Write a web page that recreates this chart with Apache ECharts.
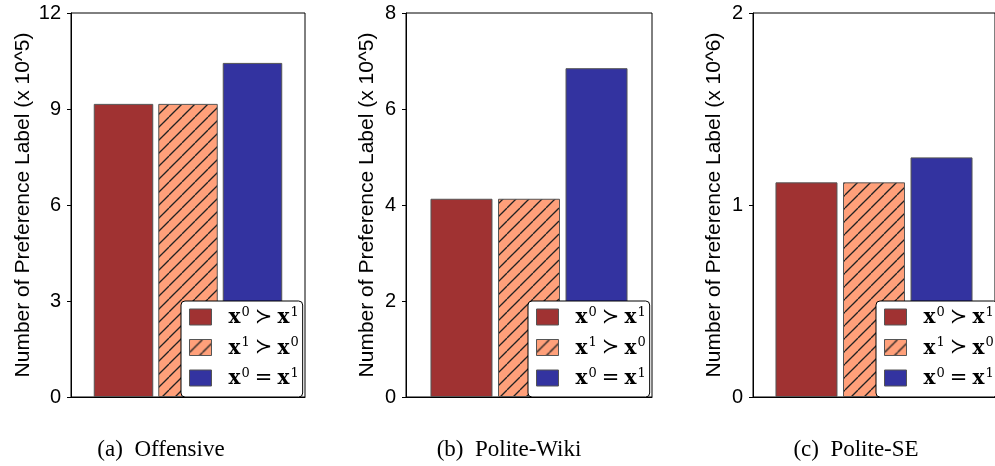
<!DOCTYPE html>
<html>
<head>
<meta charset="utf-8">
<script src="https://cdn.jsdelivr.net/npm/echarts@6/dist/echarts.min.js"></script>
<style>html,body{margin:0;padding:0;background:#fff;}#c{width:995px;height:466px;}</style>
</head>
<body>
<div id="c"></div>
<script>
// ---- data ----
const datasets = ['Offensive', 'Polite-Wiki', 'Polite-SE'];
const captions = ['(a)\u00a0\u00a0Offensive', '(b)\u00a0\u00a0Polite-Wiki', '(c)\u00a0\u00a0Polite-SE'];
const seriesNames = ['x⁰ ≻ x¹', 'x¹ ≻ x⁰', 'x⁰ = x¹'];
const prefer01 = [9.16, 4.13, 1.118];   // x0 > x1
const prefer10 = [9.16, 4.13, 1.118];   // x1 > x0
const equalPref = [10.44, 6.85, 1.248]; // x0 = x1
const yMax = [12, 8, 2];
const yInterval = [3, 2, 1];
const yUnits = ['10^5', '10^5', '10^6'];

// ---- layout / style ----
const grids = [
  {left: 71, top: 13, width: 234, height: 384},
  {left: 406, top: 13, width: 246, height: 384},
  {left: 753, top: 13, width: 248, height: 384}
];
const barWidths = [59.5, 62, 62];
const barGaps = ['8.4%', '8.9%', '8.9%'];
const captionX = [156, 504, 851];
const nameGaps = [37, 28, 28];
const legendLeft = [181, 528, 876];

function hatch() {
  const s = 13;
  const cv = document.createElement('canvas');
  cv.width = s; cv.height = s;
  const ctx = cv.getContext('2d');
  ctx.fillStyle = '#FFA07A';
  ctx.fillRect(0, 0, s, s);
  ctx.strokeStyle = '#222';
  ctx.lineWidth = 1.3;
  for (let k = -1; k <= 1; k++) {
    ctx.beginPath();
    ctx.moveTo(k * s, s);
    ctx.lineTo(k * s + s, 0);
    ctx.stroke();
  }
  return cv;
}
const hatchPattern = {image: hatch(), repeat: 'repeat'};
const colors = ['#A03232', hatchPattern, '#3333A0'];

function legendFmt(name) {
  return name
    .replace(/x⁰/g, '{b|x}{s|0}')
    .replace(/x¹/g, '{b|x}{s|1}')
    .replace(' ≻ ', '{sp| }{o|≻}{sp| }')
    .replace(' = ', '{sp| }{o|=}{sp| }');
}
const rich = {
  b: {fontFamily: 'DejaVu Serif', fontWeight: 'bold', fontSize: 20, lineHeight: 22, verticalAlign: 'bottom', color: '#000'},
  s: {fontFamily: 'DejaVu Serif', fontSize: 13, lineHeight: 12, verticalAlign: 'top', color: '#000', padding: [0, 0, 0, 1]},
  o: {fontFamily: 'DejaVu Sans', fontSize: 21, lineHeight: 22, verticalAlign: 'bottom', color: '#000'},
  sp: {fontFamily: 'DejaVu Sans', fontSize: 16, lineHeight: 22, verticalAlign: 'bottom'}
};

const option = {
  animation: false,
  backgroundColor: '#fff',
  grid: grids.map(g => Object.assign({show: true, borderColor: '#000', borderWidth: 1, backgroundColor: 'transparent'}, g)),
  title: captions.map((t, i) => ({
    text: t, left: captionX[i], top: 433, textAlign: 'center',
    textStyle: {fontFamily: 'Liberation Serif', fontSize: 23, fontWeight: 'normal', color: '#000'}
  })),
  xAxis: datasets.map((d, i) => ({
    type: 'category', gridIndex: i, data: [d],
    axisLine: {show: true, lineStyle: {color: '#000', width: 1}},
    axisTick: {show: false}, axisLabel: {show: false}, splitLine: {show: false}
  })),
  yAxis: datasets.map((d, i) => ({
    type: 'value', gridIndex: i, min: 0, max: yMax[i], interval: yInterval[i],
    name: 'Number of Preference Label (x ' + yUnits[i] + ')',
    nameLocation: 'middle', nameGap: nameGaps[i],
    nameTextStyle: {fontFamily: 'Liberation Sans', fontSize: 21, color: '#000'},
    axisLine: {show: true, lineStyle: {color: '#000', width: 1}},
    axisTick: {show: true, length: 4, lineStyle: {color: '#000'}},
    axisLabel: {fontFamily: 'Liberation Sans', fontSize: 20, color: '#000', margin: 10},
    splitLine: {show: false}
  })),
  legend: datasets.map((d, i) => ({
    left: legendLeft[i], top: 301, orient: 'vertical',
    data: seriesNames.map(n => ({name: n, icon: 'rect'})),
    itemWidth: 22, itemHeight: 16, itemGap: 8.5,
    padding: [5, 4, 8, 8],
    backgroundColor: '#fff', borderColor: '#000', borderWidth: 1, borderRadius: 4,
    selectedMode: false, z: 10,
    formatter: legendFmt,
    textStyle: {rich: rich, padding: [0, 0, 0, 12]},
    itemStyle: {borderColor: '#555', borderWidth: 1}
  })),
  series: []
};
const values = [prefer01, prefer10, equalPref];
datasets.forEach((d, i) => {
  seriesNames.forEach((n, j) => {
    option.series.push({
      type: 'bar', name: n, xAxisIndex: i, yAxisIndex: i,
      data: [values[j][i]],
      barWidth: barWidths[i], barGap: barGaps[i],
      itemStyle: {color: colors[j], borderColor: '#555', borderWidth: 1}
    });
  });
});
const chart = echarts.init(document.getElementById('c'), null, {renderer: 'canvas'});
chart.setOption(option);
</script>
</body>
</html>
